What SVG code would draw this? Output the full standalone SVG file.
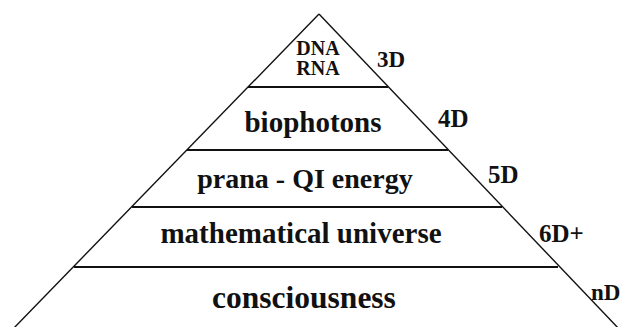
<svg xmlns="http://www.w3.org/2000/svg" width="626" height="327" viewBox="0 0 626 327">
<style>
.edge{stroke:#111;stroke-width:1.4;fill:none}
.sep{stroke:#111;stroke-width:2;fill:none}
.t{font-family:'Liberation Serif','DejaVu Serif',serif;font-weight:700;fill:#111}
.c{text-anchor:middle}
</style>
<rect width="626" height="327" fill="#fff"/>
<g id="pyramid-outline">
<line class="edge" x1="319" y1="14" x2="12" y2="330"/>
<line class="edge" x1="319" y1="14" x2="620" y2="330"/>
</g>
<g id="layer-dna">
<text class="t c" x="318" y="55" font-size="20">DNA</text>
<text class="t c" x="318" y="75" font-size="20">RNA</text>
<line class="sep" x1="248" y1="87" x2="388" y2="87"/>
<text class="t" x="377" y="67" font-size="23">3D</text>
</g>
<g id="layer-biophotons">
<text class="t c" x="313" y="132" font-size="29">biophotons</text>
<line class="sep" x1="187" y1="150" x2="448" y2="150"/>
<text class="t" x="438" y="127" font-size="25">4D</text>
</g>
<g id="layer-prana">
<text class="t c" x="305" y="188" font-size="28">prana - QI energy</text>
<line class="sep" x1="132" y1="207" x2="502" y2="207"/>
<text class="t" x="488" y="183" font-size="25">5D</text>
</g>
<g id="layer-math">
<text class="t c" x="301" y="243" font-size="29">mathematical universe</text>
<line class="sep" x1="74" y1="267" x2="558" y2="267"/>
<text class="t" x="539" y="242" font-size="25">6D+</text>
</g>
<g id="layer-consciousness">
<text class="t c" x="304" y="308" font-size="31.5">consciousness</text>
<text class="t" x="591" y="300" font-size="23">nD</text>
</g>
</svg>
